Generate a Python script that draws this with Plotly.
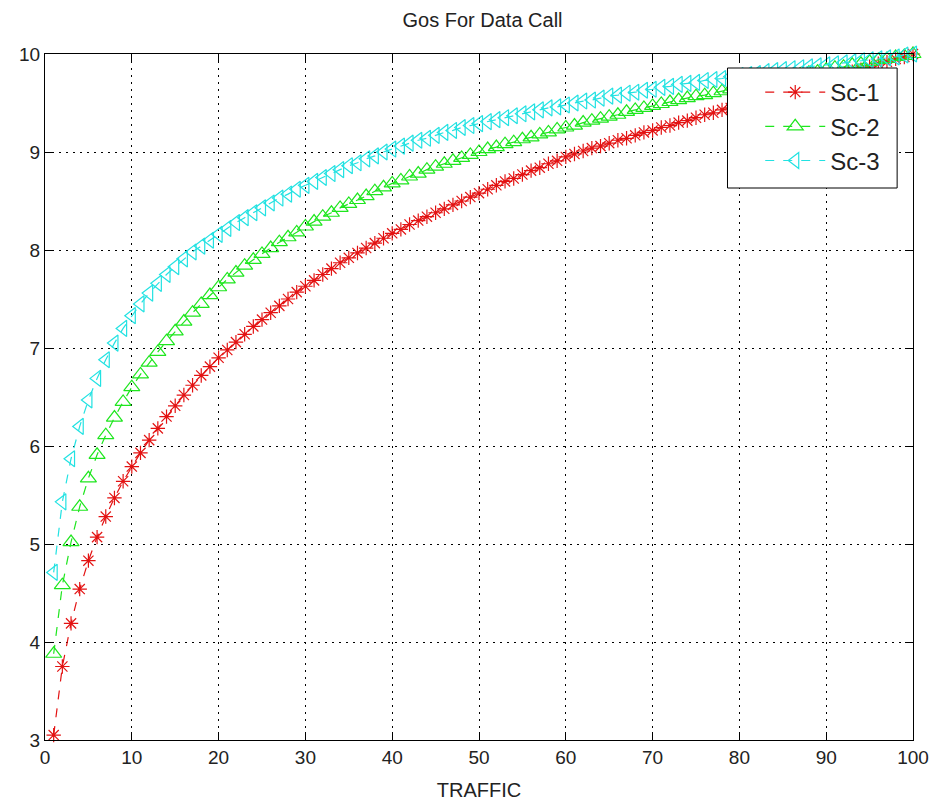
import plotly.graph_objects as go

traffic = list(range(1, 101))

sc1 = [3.05, 3.75, 4.19, 4.54, 4.83, 5.07, 5.28, 5.47, 5.64, 5.79,
       5.93, 6.06, 6.18, 6.30, 6.41, 6.52, 6.62, 6.72, 6.81, 6.90,
       6.98, 7.06, 7.14, 7.22, 7.29, 7.36, 7.43, 7.50, 7.57, 7.63,
       7.69, 7.75, 7.81, 7.87, 7.92, 7.97, 8.02, 8.07, 8.12, 8.17,
       8.21, 8.26, 8.30, 8.34, 8.38, 8.42, 8.46, 8.50, 8.54, 8.58,
       8.62, 8.66, 8.70, 8.73, 8.77, 8.81, 8.84, 8.88, 8.91, 8.95,
       8.98, 9.01, 9.04, 9.06, 9.09, 9.12, 9.14, 9.17, 9.20, 9.22,
       9.25, 9.27, 9.30, 9.32, 9.35, 9.38, 9.40, 9.43, 9.45, 9.48,
       9.50, 9.53, 9.56, 9.58, 9.61, 9.64, 9.66, 9.69, 9.71, 9.74,
       9.77, 9.79, 9.82, 9.84, 9.87, 9.90, 9.92, 9.95, 9.97, 10.00]

sc2 = [3.88, 4.58, 5.02, 5.38, 5.67, 5.91, 6.11, 6.29, 6.45, 6.60,
       6.73, 6.85, 6.96, 7.07, 7.17, 7.27, 7.36, 7.45, 7.54, 7.62,
       7.70, 7.77, 7.84, 7.90, 7.96, 8.02, 8.08, 8.13, 8.18, 8.24,
       8.29, 8.34, 8.38, 8.43, 8.47, 8.51, 8.55, 8.60, 8.64, 8.68,
       8.71, 8.75, 8.78, 8.82, 8.85, 8.88, 8.91, 8.94, 8.97, 9.00,
       9.03, 9.05, 9.08, 9.10, 9.13, 9.15, 9.18, 9.20, 9.23, 9.25,
       9.27, 9.30, 9.32, 9.34, 9.36, 9.38, 9.41, 9.43, 9.45, 9.47,
       9.49, 9.51, 9.53, 9.55, 9.57, 9.58, 9.60, 9.62, 9.64, 9.66,
       9.68, 9.70, 9.72, 9.74, 9.75, 9.77, 9.79, 9.81, 9.82, 9.84,
       9.86, 9.87, 9.89, 9.90, 9.92, 9.94, 9.95, 9.97, 9.98, 10.00]

sc3 = [4.71, 5.43, 5.87, 6.20, 6.47, 6.69, 6.88, 7.05, 7.20, 7.33,
       7.45, 7.56, 7.66, 7.75, 7.83, 7.91, 7.98, 8.04, 8.10, 8.16,
       8.22, 8.28, 8.33, 8.38, 8.43, 8.48, 8.53, 8.57, 8.62, 8.66,
       8.70, 8.74, 8.78, 8.82, 8.86, 8.89, 8.93, 8.96, 9.00, 9.03,
       9.06, 9.09, 9.12, 9.14, 9.17, 9.20, 9.22, 9.25, 9.27, 9.29,
       9.31, 9.33, 9.35, 9.37, 9.39, 9.41, 9.43, 9.45, 9.46, 9.48,
       9.50, 9.52, 9.53, 9.55, 9.57, 9.58, 9.60, 9.61, 9.63, 9.64,
       9.66, 9.67, 9.69, 9.70, 9.71, 9.73, 9.74, 9.75, 9.77, 9.78,
       9.79, 9.80, 9.82, 9.83, 9.84, 9.85, 9.86, 9.87, 9.88, 9.89,
       9.90, 9.91, 9.92, 9.93, 9.94, 9.95, 9.96, 9.97, 9.99, 10.00]

names = ["Sc-1", "Sc-2", "Sc-3"]
x_ticks = [0, 10, 20, 30, 40, 50, 60, 70, 80, 90, 100]
y_ticks = [3, 4, 5, 6, 7, 8, 9, 10]

FONT = "Liberation Sans Narrow, Arial Narrow, Liberation Sans, Arial, sans-serif"
TXT = "#222222"

# plot-area geometry in page pixels
W, H = 941, 810
L, R, T, B = 45, 920, 54, 740

styles = [
    dict(color="#e31212", symbol="asterisk-open", size=12),
    dict(color="#1ee61e", symbol="triangle-up-open", size=14),
    dict(color="#22e2e2", symbol="triangle-left-open", size=14),
]

fig = go.Figure()
for name, ys, st in zip(names, [sc1, sc2, sc3], styles):
    fig.add_trace(go.Scatter(
        x=traffic, y=ys, name=name, mode="lines+markers",
        line=dict(color=st["color"], width=1.2, dash="dash"),
        marker=dict(symbol=st["symbol"], size=st["size"], color=st["color"],
                    line=dict(color=st["color"], width=1.2)),
        cliponaxis=False,
    ))

axis_common = dict(
    showline=True, linecolor="black", linewidth=1, mirror="ticks",
    ticks="inside", ticklen=8, tickcolor="black", tickwidth=1,
    showgrid=True, gridcolor="black", gridwidth=1, griddash="2px,5px",
    zeroline=False,
    tickfont=dict(family=FONT, size=19, color=TXT),
)

fig.update_xaxes(range=[0, 100], tickvals=x_ticks,
                 title=dict(text="TRAFFIC", font=dict(family=FONT, size=20, color=TXT),
                            standoff=16),
                 **axis_common)
fig.update_yaxes(range=[3, 10], tickvals=y_ticks, **axis_common)

def px_x(p):
    return (p - L) / (R - L)

def px_y(p):
    return (B - p) / (B - T)

# legend frame (MATLAB-style box)
fig.add_shape(type="rect", xref="paper", yref="paper",
              x0=px_x(733), x1=px_x(904), y0=px_y(188), y1=px_y(68),
              line=dict(color="black", width=1), fillcolor="white", layer="above")

fig.update_layout(
    width=W, height=H,
    margin=dict(l=L, r=W - R, t=T, b=H - B),
    paper_bgcolor="white", plot_bgcolor="white",
    title=dict(text="Gos For Data Call", x=(L + R) / 2 / W, xanchor="center",
               y=1 - 20 / H, yanchor="middle",
               font=dict(family=FONT, size=20, color=TXT)),
    legend=dict(x=px_x(766), y=px_y(70), xanchor="left", yanchor="top",
                bgcolor="rgba(0,0,0,0)", borderwidth=0,
                font=dict(family=FONT, size=24, color=TXT),
                itemwidth=60, tracegroupgap=0),
    showlegend=True,
)

fig.write_html("out.html")
